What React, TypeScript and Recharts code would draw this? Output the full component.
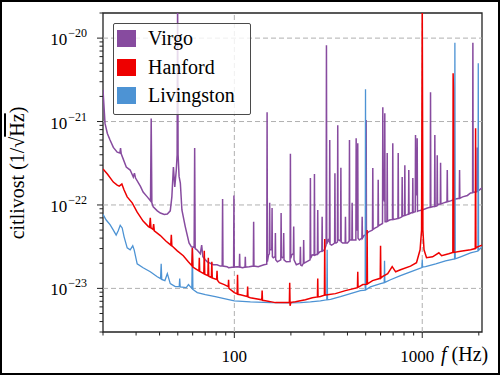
import React from 'react';
import { LineChart, Line, XAxis, YAxis, ReferenceLine, ReferenceArea } from 'recharts';

// [frequency Hz, amplitude spectral density 1/sqrt(Hz)]
const virgo: [number, number][] = [
  [20, 2.4e-21], [20.5, 9.5e-22], [21.1, 7.2e-22], [21.8, 6.0e-22], [22.7, 4.9e-22], [23.8, 4.3e-22],
  [24.6, 4.2e-22], [24.8, 4.8e-22], [25.0, 4.1e-22], [26.6, 2.84e-22], [27.9, 2.62e-22], [29.0, 2.16e-22],
  [29.4, 2.41e-22], [29.8, 2.1e-22], [31.6, 1.68e-22], [32.7, 1.43e-22], [34.4, 1.25e-22], [35.8, 1.12e-22],
  [36.1, 1.09e-21], [36.4, 1.06e-22], [37.0, 9.5e-23], [38.9, 8.5e-23], [40.4, 8.0e-23], [42.4, 7.7e-23],
  [44.0, 7.8e-23], [45.6, 8.5e-23], [46.5, 1.25e-22], [47.4, 2.84e-22], [48.2, 1.64e-22], [49.1, 2.62e-22],
  [49.6, 4.0e-22], [49.9, 3e-20], [50.2, 4.0e-22], [50.8, 2.2e-22], [51.6, 1.83e-22], [52.6, 8.7e-23],
  [54.8, 5.5e-23], [57.4, 3.5e-23], [59.1, 3.15e-23], [61.1, 3.1e-23], [61.5, 4.8e-22], [61.9, 3.0e-23],
  [63.2, 2.9e-23], [65.9, 2.6e-23], [67.0, 3.3e-23], [68.0, 2.4e-23], [70.1, 2.2e-23], [71.8, 2.08e-23],
  [77.3, 1.92e-23], [80.9, 1.92e-23], [84.2, 1.85e-23], [86.2, 1.85e-23], [86.6, 1.18e-22], [87.0, 1.85e-23],
  [91.4, 1.82e-23], [93.2, 1.77e-23], [99.1, 1.8e-23], [99.5, 1.3e-22], [99.9, 1.8e-23], [103.7, 1.82e-23],
  [106.3, 1.8e-23], [106.7, 2.6e-23], [107.1, 1.8e-23], [110.6, 1.77e-23], [114.0, 1.8e-23], [114.4, 2.4e-23],
  [114.8, 1.8e-23], [120.0, 1.82e-23], [126.2, 1.85e-23], [126.7, 6.3e-23], [127.2, 1.85e-23], [134.0, 1.82e-23],
  [143.7, 1.92e-23], [148.8, 1.95e-23], [149.4, 1.29e-21], [150.0, 2.1e-23], [152.0, 2.5e-23], [153.6, 2.6e-23],
  [154.2, 1.06e-22], [154.8, 2.9e-23], [158.2, 2.9e-23], [158.8, 9.2e-23], [159.4, 2.4e-23], [161.2, 2.33e-23],
  [164.8, 2.4e-23], [165.4, 4.6e-23], [166.0, 2.2e-23], [169.5, 2.08e-23], [176.7, 2.2e-23], [177.4, 8.0e-23],
  [178.1, 2.4e-23], [180.0, 2.33e-23], [182.4, 2.4e-23], [183.1, 4.6e-23], [183.8, 2.2e-23], [189.0, 2.08e-23],
  [198.0, 2.1e-23], [198.8, 4.1e-22], [199.6, 2.3e-23], [202.0, 2.53e-23], [206.2, 2.6e-23], [207.0, 5.5e-23],
  [207.8, 2.2e-23], [213.8, 1.92e-23], [223.8, 2.0e-23], [224.7, 3.15e-23], [225.6, 1.9e-23], [229.0, 1.87e-23],
  [233.0, 2.0e-23], [233.9, 3.8e-23], [234.8, 2.0e-23], [242.0, 2.08e-23], [253.0, 2.2e-23], [254.0, 2.1e-22],
  [255.0, 2.3e-23], [260.0, 2.53e-23], [265.9, 2.5e-23], [266.9, 2.35e-22], [267.9, 2.5e-23], [272.0, 2.53e-23],
  [276.8, 2.6e-23], [277.9, 8.7e-23], [279.0, 2.6e-23], [285.0, 2.74e-23], [292.2, 2.8e-23], [293.3, 7.2e-23],
  [294.4, 2.8e-23], [302.0, 2.9e-23], [306.5, 3.2e-23], [308.0, 3.3e-23], [309.2, 8.2e-21], [310.4, 3.4e-23],
  [316.0, 3.8e-23], [320.7, 3.6e-23], [321.9, 6.0e-22], [323.1, 3.4e-23], [329.0, 3.3e-23], [336.0, 3.4e-23],
  [341.7, 3.5e-23], [343.0, 2.4e-22], [344.3, 3.5e-23], [348.0, 3.5e-23], [353.8, 3.6e-23], [355.1, 9.0e-22],
  [356.4, 3.8e-23], [360.0, 3.8e-23], [367.6, 3.7e-23], [369.0, 2.8e-22], [370.4, 3.6e-23], [377.0, 3.5e-23],
  [388.9, 3.5e-23], [390.3, 7.2e-23], [391.7, 3.5e-23], [400.0, 3.5e-23], [408.5, 3.7e-23], [410.0, 6.0e-22],
  [411.5, 3.8e-23], [417.0, 3.8e-23], [422.2, 3.8e-23], [423.7, 1.06e-22], [425.2, 3.8e-23], [432.0, 3.8e-23],
  [443.4, 3.8e-23], [445.0, 6.3e-22], [447.5, 5.0e-23], [452.2, 5.0e-23], [453.8, 5.5e-22], [455.4, 4.0e-23],
  [463.0, 3.8e-23], [477.3, 4.0e-23], [479.0, 7.2e-23], [480.7, 4.0e-23], [490.0, 4.3e-23], [501.2, 4.4e-23],
  [503.0, 1.04e-21], [504.8, 4.5e-23], [518.0, 4.75e-23], [543.6, 5.0e-23], [545.6, 2.77e-22], [547.6, 5.1e-23],
  [563.0, 5.3e-23], [581.0, 5.5e-23], [583.0, 2.0e-22], [585.0, 5.6e-23], [600.0, 5.8e-23], [614.6, 6.0e-23],
  [616.8, 1.48e-21], [620.0, 1.15e-22], [624.0, 1.2e-22], [629.7, 1.1e-22], [632.0, 1.26e-21], [634.3, 6.3e-23],
  [641.0, 6.3e-23], [648.6, 6.4e-23], [651.0, 4.2e-22], [653.4, 6.4e-23], [670.0, 6.6e-23], [694.5, 6.7e-23],
  [697.0, 5.5e-22], [699.5, 6.7e-23], [722.0, 6.8e-23], [742.3, 6.9e-23], [745.0, 4.2e-22], [747.7, 6.9e-23],
  [760.0, 7.0e-23], [779.2, 7.2e-23], [782.0, 2.16e-22], [784.8, 7.3e-23], [795.0, 7.4e-23], [805.1, 7.5e-23],
  [808.0, 3.0e-22], [810.9, 7.5e-23], [826.0, 7.6e-23], [845.0, 7.8e-23], [848.0, 2.62e-22], [851.0, 7.8e-23],
  [869.0, 8.0e-23], [887.8, 8.1e-23], [891.0, 2.1e-22], [894.2, 8.1e-23], [906.0, 8.2e-23], [917.7, 8.3e-23],
  [921.0, 6.9e-22], [925.0, 1.3e-22], [930.0, 1.5e-22], [936.6, 1.3e-22], [940.0, 6.3e-22], [943.4, 8.4e-23],
  [955.0, 8.5e-23], [1000, 8.7e-23], [1065, 9.2e-23], [1103, 9.4e-23], [1107, 2.24e-21], [1111, 9.4e-23],
  [1135, 9.5e-23], [1162.8, 9.6e-23], [1167, 6.9e-22], [1171.2, 9.6e-23], [1185, 9.7e-23], [1197.7, 9.8e-23],
  [1202, 3.95e-22], [1206.3, 9.9e-23], [1226, 1.02e-22], [1247.5, 1.03e-22], [1252, 3.2e-22], [1256.5, 1.03e-22],
  [1300, 1.06e-22], [1354.1, 1.09e-22], [1359, 2.62e-22], [1363.9, 1.09e-22], [1415, 1.12e-22], [1505, 1.18e-22],
  [1574.3, 1.2e-22], [1580, 2.62e-22], [1585.7, 1.2e-22], [1640, 1.25e-22], [1740, 1.3e-22], [1808, 1.39e-22],
  [1853.3, 1.4e-22], [1860, 8.8e-21], [1866.7, 1.41e-22], [1910, 1.43e-22], [1956, 1.45e-22], [1963, 4.9e-22],
  [1970, 1.46e-22], [2010, 1.51e-22], [2080, 1.6e-22],
];

const hanford: [number, number][] = [
  [20, 2.7e-22], [21.1, 2.35e-22], [22.7, 1.88e-22], [23.8, 1.73e-22], [24.4, 1.68e-22], [25.2, 1.78e-22],
  [25.9, 1.51e-22], [26.9, 1.25e-22], [28.6, 1.06e-22], [30.4, 8.2e-23], [32.7, 6.4e-23], [34.9, 5.5e-23],
  [35.4, 5.4e-23], [35.7, 7.0e-23], [36.0, 5.3e-23], [36.9, 5.1e-23], [37.2, 5.9e-23], [37.5, 4.9e-23],
  [40.4, 4.3e-23], [43.2, 3.7e-23], [45.9, 3.3e-23], [46.2, 4.4e-23], [46.5, 3.25e-23], [49.7, 2.82e-23],
  [53.5, 2.46e-23], [56.9, 2.08e-23], [59.4, 1.87e-23], [59.8, 3.06e-23], [60.2, 1.8e-23], [63.5, 1.67e-23],
  [64.8, 1.62e-23], [65.1, 2.33e-23], [65.4, 1.6e-23], [68.8, 1.5e-23], [69.2, 2.82e-23], [69.6, 1.48e-23],
  [72.3, 1.42e-23], [72.7, 2.33e-23], [73.1, 1.4e-23], [75.5, 1.35e-23], [75.9, 2.08e-23], [76.3, 1.33e-23],
  [80.5, 1.28e-23], [80.9, 1.63e-23], [81.3, 1.25e-23], [83.2, 1.17e-23], [88.4, 1.11e-23], [92.8, 1.05e-23],
  [93.2, 1.27e-23], [93.6, 1.0e-23], [100, 8.9e-24], [103.5, 8.6e-24], [104.0, 1.46e-23], [104.5, 8.5e-24],
  [107.6, 8.4e-24], [117.2, 8.0e-24], [117.7, 1.05e-23], [118.2, 7.9e-24], [121.7, 7.74e-24], [140.0, 7.3e-24],
  [140.6, 9.4e-24], [141.2, 7.2e-24], [146.3, 7.1e-24], [165.4, 6.75e-24], [186.9, 6.75e-24], [196.3, 6.8e-24],
  [197.1, 1.17e-23], [198.0, 6.2e-24], [200.0, 6.8e-24], [211.3, 6.9e-24], [238.9, 7.3e-24], [260.0, 7.74e-24],
  [276.8, 7.9e-24], [277.9, 1.31e-23], [279.0, 7.9e-24], [287.0, 8.0e-24], [301.6, 8.3e-24], [302.8, 3.9e-23],
  [304.0, 8.3e-24], [313.0, 8.4e-24], [345.0, 8.65e-24], [390.0, 9.4e-24], [452.0, 1.02e-23], [453.8, 1.58e-23],
  [455.6, 1.03e-23], [483.0, 1.11e-23], [507.0, 1.12e-23], [509.0, 5.0e-23], [511.0, 1.13e-23], [544.0, 1.24e-23],
  [597.6, 1.32e-23], [600.0, 3.24e-23], [602.4, 1.33e-23], [614.0, 1.38e-23], [655.0, 1.5e-23], [692.0, 1.82e-23],
  [722.0, 1.58e-23], [766.0, 1.67e-23], [866.0, 1.85e-23], [932.0, 2.03e-23], [974.0, 2.9e-23], [992.0, 5.0e-23],
  [1000, 3e-20], [1008, 5.0e-23], [1022, 2.9e-23], [1054, 2.33e-23], [1135, 2.39e-23], [1226, 2.67e-23],
  [1268, 2.46e-23], [1383, 2.6e-23], [1455, 2.7e-23], [1460, 3.8e-21], [1466, 2.4e-21], [1472, 2.7e-23],
  [1600, 2.78e-23], [1808, 2.9e-23], [1915, 3.0e-23], [1923, 8.3e-22], [1931, 3.05e-23], [1970, 3.15e-23],
  [2080, 3.3e-23],
];

const livingston: [number, number][] = [
  [20, 7.7e-23], [20.8, 6.6e-23], [21.8, 5.8e-23], [22.7, 5.0e-23], [23.5, 4.35e-23], [24.1, 4.9e-23],
  [24.7, 5.7e-23], [25.3, 5.3e-23], [25.9, 4.15e-23], [26.9, 3.06e-23], [27.9, 2.9e-23], [28.8, 3.24e-23],
  [29.3, 2.9e-23], [30.4, 1.97e-23], [32.7, 1.77e-23], [35.7, 1.58e-23], [38.9, 1.38e-23], [40.5, 1.31e-23],
  [40.8, 1.97e-23], [41.1, 1.28e-23], [42.7, 1.24e-23], [44.0, 1.5e-23], [45.6, 1.14e-23], [48.5, 1.05e-23],
  [50.9, 1.05e-23], [51.2, 1.31e-23], [51.5, 1.04e-23], [55.5, 1.02e-23], [57.0, 1.11e-23], [59.4, 1.0e-23],
  [59.8, 3.06e-23], [60.2, 9.7e-24], [63.5, 8.9e-24], [70.1, 8.4e-24], [79.2, 7.96e-24], [89.5, 7.5e-24],
  [100, 7.1e-24], [121.7, 6.9e-24], [155.6, 6.75e-24], [198.8, 6.7e-24], [224.7, 6.75e-24], [254.0, 6.9e-24],
  [287.0, 7.1e-24], [310.5, 7.3e-24], [311.8, 2.9e-23], [313.1, 7.3e-24], [325.0, 7.4e-24], [367.0, 7.96e-24],
  [415.0, 8.65e-24], [469.0, 9.4e-24], [497.0, 9.5e-24], [499.0, 2.43e-21], [501.0, 9.6e-24], [530.0, 1.04e-23],
  [600.0, 1.14e-23], [627.5, 1.17e-23], [630.0, 2.14e-23], [632.5, 1.18e-23], [678.0, 1.27e-23], [766.0, 1.42e-23],
  [866.0, 1.58e-23], [996.0, 1.78e-23], [1000, 2.2e-23], [1004, 1.8e-23], [1041, 1.82e-23], [1180, 1.97e-23],
  [1330, 2.14e-23], [1486, 2.25e-23], [1492, 8.8e-21], [1498, 2.26e-23], [1600, 2.39e-23], [1808, 2.67e-23],
  [1979, 2.8e-23], [1987, 4.98e-21], [1995, 2.85e-23], [2080, 3.15e-23],
];

const xTicks = [20, 30, 40, 50, 60, 70, 80, 90, 100, 200, 300, 400, 500, 600, 700, 800, 900, 1000, 2000];
const yTicks = [
  3e-24, 4e-24, 5e-24, 6e-24, 7e-24, 8e-24, 9e-24,
  1e-23, 2e-23, 3e-23, 4e-23, 5e-23, 6e-23, 7e-23, 8e-23, 9e-23,
  1e-22, 2e-22, 3e-22, 4e-22, 5e-22, 6e-22, 7e-22, 8e-22, 9e-22,
  1e-21, 2e-21, 3e-21, 4e-21, 5e-21, 6e-21, 7e-21, 8e-21, 9e-21,
  1e-20, 2e-20,
];
const xMajor = [100, 1000];
const yMajor = [1e-23, 1e-22, 1e-21, 1e-20];

const legendItems = [
  { name: 'Virgo', color: '#874b9f' },
  { name: 'Hanford', color: '#ee0000' },
  { name: 'Livingston', color: '#4d93d4' },
];

const toRows = (pts: [number, number][]) => pts.map(([f, v]) => ({ f, v }));
const virgoData = toRows(virgo);
const hanfordData = toRows(hanford);
const livingstonData = toRows(livingston);

const FONT = '"Liberation Serif", "Times New Roman", serif';
const INK = '#222';

const XTick = (props: any) => {
  const { x, y, payload } = props;
  const major = xMajor.includes(payload.value);
  // the 1000 label sits a little left so it clears the axis title
  const shift = payload.value === 1000 ? -5 : 0;
  return (
    <g>
      <line x1={x} x2={x} y1={y} y2={y + (major ? 6 : 3.5)} stroke={INK} strokeWidth={1} />
      {major && (
        <text x={x + shift} y={y + 30} textAnchor="middle" fontSize={17} fontFamily={FONT} fill="#000">
          {payload.value}
        </text>
      )}
    </g>
  );
};

const YTick = (props: any) => {
  const { x, y, payload } = props;
  const major = yMajor.some((m) => Math.abs(m / payload.value - 1) < 1e-6);
  const exp = Math.round(Math.log10(payload.value));
  return (
    <g>
      <line x1={x - (major ? 6 : 3.5)} x2={x} y1={y} y2={y} stroke={INK} strokeWidth={1} />
      {major && (
        <text x={x - 16} y={y + 7} textAnchor="end" fontFamily={FONT} fill="#000">
          <tspan fontSize={17}>10</tspan>
          <tspan fontSize={12} dx={1} dy={-8}>{'\u2212' + Math.abs(exp)}</tspan>
        </text>
      )}
    </g>
  );
};

const YLabel = () => (
  <text transform="translate(24,173) rotate(-90)" textAnchor="middle" fontSize={20} fontFamily={FONT} fill="#000">
    citlivost (1/√<tspan style={{ textDecoration: 'overline' }}>Hz</tspan>)
  </text>
);

const XLabel = () => (
  <text x={441} y={361} fontSize={20} fontFamily={FONT} fill="#000">
    <tspan fontStyle="italic">f</tspan> (Hz)
  </text>
);

export default function App() {
  return (
    <div style={{ position: 'relative', width: 500, height: 375, background: '#fff' }}>
      <style>{'body{margin:0}'}</style>
      <div style={{ position: 'absolute', left: 0, top: 0 }}>
        <LineChart width={500} height={375} margin={{ top: 13, right: 18, bottom: 0, left: 0 }}>
          <XAxis
            dataKey="f"
            type="number"
            scale="log"
            domain={[20, 2080]}
            allowDataOverflow
            ticks={xTicks}
            interval={0}
            tick={<XTick />}
            tickLine={false}
            axisLine={false}
            tickSize={0}
            tickMargin={0}
            height={43}
            label={<XLabel />}
          />
          <YAxis
            type="number"
            scale="log"
            domain={[3e-24, 2e-20]}
            allowDataOverflow
            ticks={yTicks}
            interval={0}
            tick={<YTick />}
            tickLine={false}
            axisLine={false}
            tickSize={0}
            tickMargin={0}
            width={103}
            label={<YLabel />}
          />
          {xMajor.map((v) => (
            <ReferenceLine key={'x' + v} x={v} stroke="#b0b0b0" strokeDasharray="5 3" strokeWidth={1} />
          ))}
          {yMajor.map((v) => (
            <ReferenceLine key={'y' + v} y={v} stroke="#b0b0b0" strokeDasharray="5 3" strokeWidth={1} />
          ))}
          <Line data={virgoData} dataKey="v" stroke="#874b9f" strokeWidth={1.5} dot={false} activeDot={false} isAnimationActive={false} />
          <Line data={livingstonData} dataKey="v" stroke="#4d93d4" strokeWidth={1.3} dot={false} activeDot={false} isAnimationActive={false} />
          <Line data={hanfordData} dataKey="v" stroke="#ee0000" strokeWidth={1.5} dot={false} activeDot={false} isAnimationActive={false} />
          <ReferenceArea x1={20} x2={2080} y1={3e-24} y2={2e-20} fill="#fff" fillOpacity={0} stroke={INK} strokeWidth={1.3} />
        </LineChart>
      </div>
      <div
        style={{
          position: 'absolute', left: 113, top: 23, width: 138, height: 92, boxSizing: 'border-box',
          border: '1px solid #4a4a4a', borderRadius: 2, background: 'rgba(255,255,255,0.8)',
        }}
      >
        {legendItems.map((it, i) => (
          <div key={it.name} style={{ position: 'absolute', left: 3, top: 6 + i * 28.7, height: 17, display: 'flex', alignItems: 'center' }}>
            <div style={{ width: 19, height: 17, background: it.color }} />
            <span style={{ marginLeft: 12, fontFamily: FONT, fontSize: 20, lineHeight: '17px', color: '#000', whiteSpace: 'nowrap' }}>{it.name}</span>
          </div>
        ))}
      </div>
      <div style={{ position: 'absolute', inset: 0, border: '2px solid #000', boxSizing: 'border-box', pointerEvents: 'none' }} />
    </div>
  );
}
